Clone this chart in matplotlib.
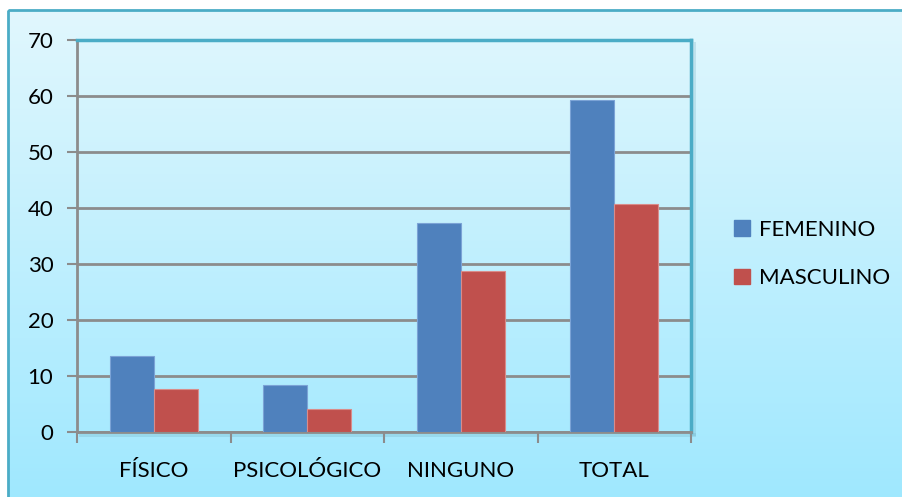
import matplotlib.pyplot as plt
import numpy as np
from matplotlib.colors import LinearSegmentedColormap
from matplotlib.patches import Patch, Rectangle

categories = ["FÍSICO", "PSICOLÓGICO", "NINGUNO", "TOTAL"]
femenino = [13.6, 8.4, 37.3, 59.3]
masculino = [7.7, 4.1, 28.8, 40.7]
series_labels = ["FEMENINO", "MASCULINO"]
y_ticks = [0, 10, 20, 30, 40, 50, 60, 70]

BLUE = "#4F81BD"
RED = "#C0504D"
TEAL = "#4BACC6"
GRID = "#8C8C8C"

plt.rcParams["font.family"] = ["Lato", "DejaVu Sans"]

W, H = 903, 497
fig = plt.figure(figsize=(W / 100, H / 100), dpi=100)
fig.patch.set_facecolor("white")

# vertical gradient backdrop inside the chart frame
bg = fig.add_axes([0, 0, 1, 1], zorder=0)
bg.set_xlim(0, W)
bg.set_ylim(H, 0)
bg.axis("off")
grad = np.linspace(0, 1, 256).reshape(-1, 1)
cmap = LinearSegmentedColormap.from_list("bg", ["#E1F7FD", "#9FE8FF"])
bg.imshow(grad, cmap=cmap, aspect="auto", extent=(8, W + 5, H + 5, 10), zorder=0)
bg.add_patch(Rectangle((8, 10), W + 10, H + 10, fill=False, ec=TEAL, lw=2, zorder=2))

# thin shadow along the right and bottom of the plot area
bg.add_patch(Rectangle((692, 42), 4, 394, fc="#6FA9BA", ec="none", alpha=0.25, zorder=1))
bg.add_patch(Rectangle((79, 433), 617, 4, fc="#6FA9BA", ec="none", alpha=0.25, zorder=1))

ax = fig.add_axes([77 / W, 1 - 432 / H, (691 - 77) / W, (432 - 40) / H], zorder=1)
ax.patch.set_visible(False)

x = np.arange(len(categories))
w = 0.287
ax.bar(x - w / 2, femenino, w, color=BLUE, edgecolor="#7BA3D6", linewidth=0.8, zorder=3)
ax.bar(x + w / 2, masculino, w, color=RED, edgecolor="#D98C8A", linewidth=0.8, zorder=3)

ax.set_xlim(-0.5, len(categories) - 0.5)
ax.set_ylim(0, 70)
ax.set_yticks(y_ticks)
ax.set_yticklabels([str(v) for v in y_ticks], fontsize=16)
ax.set_xticks(x)
ax.set_xticklabels(categories, fontsize=16)
ax.set_xticks(np.arange(-0.5, len(categories)), minor=True)
ax.tick_params(axis="x", which="major", length=0, pad=21)
ax.tick_params(axis="x", which="minor", length=8, width=1.5, color=GRID, direction="out")
ax.tick_params(axis="y", length=7, width=1.5, color=GRID, pad=10)

ax.grid(axis="y", color=GRID, linewidth=2, zorder=1)
ax.set_axisbelow(True)

for side in ("left", "bottom"):
    ax.spines[side].set_color(GRID)
    ax.spines[side].set_linewidth(2)
for side in ("top", "right"):
    ax.spines[side].set_color(TEAL)
    ax.spines[side].set_linewidth(2.5)

handles = [Patch(color=BLUE), Patch(color=RED)]
fig.legend(handles, series_labels, loc="center left",
           bbox_to_anchor=(723 / W, 1 - 254 / H), frameon=False, fontsize=16,
           handlelength=0.7, handleheight=0.7, handletextpad=0.4,
           labelspacing=1.3, borderpad=0)

fig.savefig("out.png", dpi=100)
